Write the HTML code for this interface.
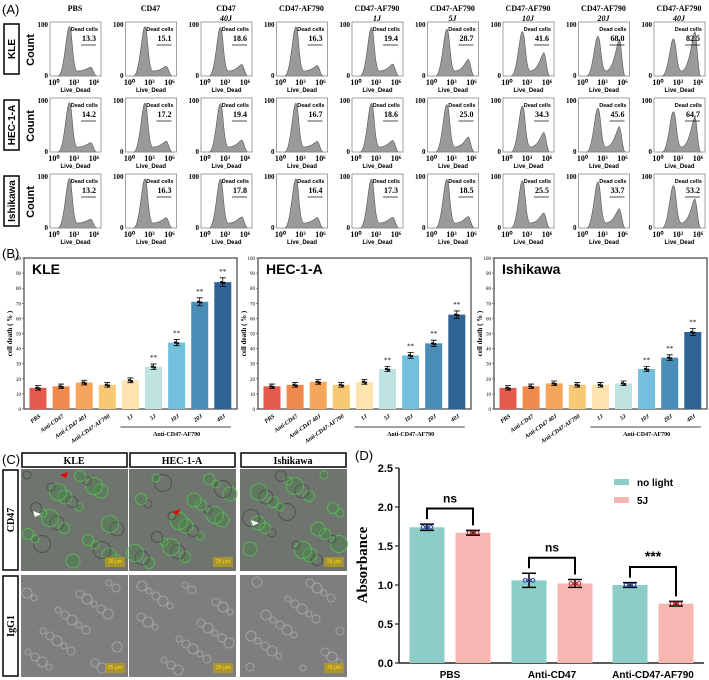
<!DOCTYPE html>
<html><head><meta charset="utf-8">
<style>
html,body{margin:0;padding:0;background:#fff;}
svg{display:block;font-family:"Liberation Serif",serif;}
.sans{font-family:"Liberation Sans",sans-serif;}
</style></head>
<body>
<svg id="fig" width="709" height="680" viewBox="0 0 709 680" xmlns="http://www.w3.org/2000/svg">
<text x="2" y="14" class="sans" font-size="13">(A)</text>
<text x="2" y="258" class="sans" font-size="13">(B)</text>
<text x="2" y="464" class="sans" font-size="13">(C)</text>
<text x="355" y="460" class="sans" font-size="13">(D)</text>
<g id="A"></g><g id="B"></g><g id="C"></g><g id="D"></g>
</svg>
<script>
// ---------- Panel A data ----------
const flowCols = ["PBS","CD47","CD47|40J","CD47-AF790","CD47-AF790|1J","CD47-AF790|5J","CD47-AF790|10J","CD47-AF790|20J","CD47-AF790|40J"];
const flowRows = ["KLE","HEC-1-A","Ishikawa"];
const deadKLE = [13.3,15.1,18.6,16.3,19.4,28.7,41.6,68.0,82.5];
const deadHEC = [14.2,17.2,19.4,16.7,18.6,25.0,34.3,45.6,64.7];
const deadISH = [13.2,16.3,17.8,16.4,17.3,18.5,25.5,33.7,53.2];
// ---------- Panel B data ----------
const bCats = ["PBS","Anti-CD47","Anti-CD47 40J","Anti-CD47-AF790","1J","5J","10J","20J","40J"];
const bKLE = [14,15,17.5,16,19,28,44,71,84];
const bHEC = [15,16,18,16,18,26.5,35.5,43.5,62.5];
const bISH = [14,15,17,16,16,17,26.5,34,51];
const bSigKLE = [0,0,0,0,0,1,1,1,1];
const bSigHEC = [0,0,0,0,0,1,1,1,1];
const bSigISH = [0,0,0,0,0,0,1,1,1];
const bTicks = [0,10,20,30,40,50,60,70,80,90,100];
// ---------- Panel D data ----------
const dCats = ["PBS","Anti-CD47","Anti-CD47-AF790"];
const dNoLight = [1.74,1.06,1.00];
const dFiveJ = [1.67,1.02,0.76];
const dErrNo = [0.04,0.09,0.03];
const dErr5 = [0.03,0.05,0.03];
const dSig = ["ns","ns","***"];
const dTicks = [0,0.5,1.0,1.5,2.0,2.5];

const NS="http://www.w3.org/2000/svg";
function mk(tag,attrs,parent,text){const e=document.createElementNS(NS,tag);for(const k in attrs)e.setAttribute(k,attrs[k]);if(text!==undefined)e.textContent=text;parent.appendChild(e);return e;}

// ---------- Panel A ----------
const A=document.getElementById('A');
const deadAll=[deadKLE,deadHEC,deadISH];
flowCols.forEach((c,i)=>{
  const cx=75+i*75.5;const parts=c.split('|');
  const t=mk('text',{x:cx,y:11,'text-anchor':'middle','font-size':8,'font-weight':'bold'},A,parts[0]);
  
  
  if(parts[1]){const t2=mk('text',{x:cx,y:21,'text-anchor':'middle','font-size':8,'font-weight':'bold','font-style':'italic'},A,parts[1]);
  
  }
});
flowRows.forEach((r,ri)=>{
  const top=22+ri*76;
  const lb=mk('rect',{x:4,y:top+2,width:15,height:50,fill:'#fff',stroke:'#000','stroke-width':1.5},A);
  
  
  const lt=mk('text',{x:0,y:0,'text-anchor':'middle','font-size':10,'font-weight':'bold',class:'sans',transform:`translate(15,${top+27}) rotate(-90)`},A,r);
  
  
  const ct=mk('text',{x:0,y:0,'text-anchor':'middle','font-size':11,'font-weight':'bold',class:'sans',transform:`translate(34,${top+28}) rotate(-90)`},A,'Count');
  
  
  deadAll[ri].forEach((v,ci)=>{
    const x0=50+ci*75.5,w=51,h=54,y0=top;
    const g=mk('g',{},A);
    
    
    const bl=y0+h; const p1=x0+w*0.38; const p2=x0+w*0.8;
    const ph1=h*(1-v/300)-2;
    const ph2=Math.min(h*0.92, h*v/100*0.95+2);
    const d=`M${x0+8},${bl} C${p1-5},${bl} ${p1-3},${bl-ph1} ${p1},${bl-ph1} C${p1+3},${bl-ph1} ${p1+3},${bl-5} ${p1+8},${bl-5} C${p2-5},${bl-5} ${p2-2},${bl-ph2} ${p2},${bl-ph2} C${p2+2},${bl-ph2} ${p2+3},${bl} ${p2+6},${bl} Z`;
    mk('path',{d:d,fill:'#9a9a9a',stroke:'#555','stroke-width':0.6},g);
    mk('rect',{x:x0,y:y0,width:w,height:h,fill:'none',stroke:'#888','stroke-width':0.8},g);
    mk('text',{x:x0-2,y:y0+5,'text-anchor':'end','font-size':7,'font-weight':'bold'},g,'100');
    mk('text',{x:x0-2,y:bl+2,'text-anchor':'end','font-size':7,'font-weight':'bold'},g,'0');
    mk('text',{x:x0+w-3,y:y0+9,'text-anchor':'end','font-size':5.5,'font-weight':'bold',class:'sans'},g,'Dead cells');
    mk('text',{x:x0+w-5,y:y0+19,'text-anchor':'end','font-size':8,'font-weight':'bold'},g,v.toFixed(1));
    mk('line',{x1:x0+w-20,x2:x0+w-5,y1:y0+23,y2:y0+23,stroke:'#000','stroke-width':0.7},g);
    ['10⁰','10³','10⁶'].forEach((s,k)=>mk('text',{x:x0+4+k*20,y:bl+9,'text-anchor':'middle','font-size':8,'font-weight':'bold'},g,s));
    mk('text',{x:x0+w/2,y:bl+16,'text-anchor':'middle','font-size':6,'font-weight':'bold',class:'sans'},g,'Live_Dead');
  });
});

// ---------- Panel B ----------
const B=document.getElementById('B');
const bColors=['#e45a4d','#ef8a4c','#f5a65c','#f9c874','#fde3ad','#bfe3e3','#74bfdc','#4a8eb8','#2f6393'];
function barChart(left,title,vals,sig){
  const top=258,bot=409,w=213;
  const y=v=>bot-(v/100)*(bot-top);
  const x=i=>left+14+i*23.1;
  const g=mk('g',{},B);
  
  
  mk('rect',{x:left,y:top,width:w,height:bot-top,fill:'none',stroke:'#444','stroke-width':1.2},g);
  bTicks.forEach(t=>{mk('line',{x1:left-2,x2:left,y1:y(t),y2:y(t),stroke:'#444','stroke-width':0.6},g);
    mk('text',{x:left-3,y:y(t)+2,'text-anchor':'end','font-size':5},g,t);});
  const tt=mk('text',{x:left+8,y:top+16,'font-size':14,'font-weight':'bold',class:'sans'},g,title);
  
  
  mk('text',{x:0,y:0,'text-anchor':'middle','font-size':7,'font-weight':'bold',transform:`translate(${left-12},${(top+bot)/2}) rotate(-90)`},g,'cell death ( % )');
  vals.forEach((v,i)=>{
    const b=mk('rect',{x:x(i)-8.5,y:y(v),width:17,height:bot-y(v),fill:bColors[i]},g);
    
    
    const e=1.2+v*0.02;
    mk('path',{d:`M${x(i)},${y(v+e)}V${y(v-e)}M${x(i)-3},${y(v+e)}h6M${x(i)-3},${y(v-e)}h6`,stroke:'#000','stroke-width':0.8,fill:'none'},g);
    mk('circle',{cx:x(i)-1.5,cy:y(v),r:1.2,fill:'#000'},g);mk('circle',{cx:x(i)+1.5,cy:y(v-0.5),r:1.2,fill:'#000'},g);
    if(sig[i])mk('text',{x:x(i),y:y(v+e)-4,'text-anchor':'middle','font-size':7},g,'**');
    mk('text',{x:0,y:0,'text-anchor':'end','font-size':6,'font-weight':'bold','font-style':'italic',transform:`translate(${x(i)+3},${bot+8}) rotate(-35)`},g,bCats[i]);
  });
  mk('line',{x1:x(4)-10,x2:x(8)+8,y1:bot+18,y2:bot+18,stroke:'#444','stroke-width':1},g);
  mk('text',{x:(x(4)+x(8))/2,y:bot+27,'text-anchor':'middle','font-size':6,'font-weight':'bold'},g,'Anti-CD47-AF790');
}
barChart(24,'KLE',bKLE,bSigKLE);
barChart(258,'HEC-1-A',bHEC,bSigHEC);
barChart(494,'Ishikawa',bISH,bSigISH);

// ---------- Panel C ----------
const C=document.getElementById('C');
const cCols=['KLE','HEC-1-A','Ishikawa'];const cX=[21,129,240];
cCols.forEach((c,i)=>{
  const h=mk('rect',{x:cX[i]+1,y:453,width:105,height:14,fill:'#fff',stroke:'#000','stroke-width':1.5},C);
  
  
  mk('text',{x:cX[i]+53,y:464,'text-anchor':'middle','font-size':10,'font-weight':'bold'},C,c);
  [0,1].forEach(r=>{
    const y0=r?575:469;
    const im=mk('rect',{x:cX[i],y:y0,width:107,height:102,fill:r?'#7e7e7e':'#6f756e'},C);
    
    
    for(let k=0;k<26;k++){
      const cx=cX[i]+6+((k*37+i*13+r*7)%96), cy=y0+6+((k*53+i*29+r*17)%90);
      const rr=r?3+(k%3):4+(k%4)*1.5;
      const green=!r && (k%3!==0);
      mk('circle',{cx:cx,cy:cy,r:rr,fill:green?'#3a8a3a':'none','fill-opacity':0.35,stroke:green?'#55c855':(r?'#b0b0b0':'#444'),'stroke-width':1,opacity:0.75},C);
    }
    mk('rect',{x:cX[i]+84,y:y0+88,width:20,height:10,fill:'#b89a20',opacity:0.8},C);
    mk('text',{x:cX[i]+94,y:y0+94,'text-anchor':'middle','font-size':5,fill:'#ffe000',class:'sans'},C,'25 μm');
  });
});
['CD47','IgG1'].forEach((s,r)=>{
  const y0=r?575:469;
  const b=mk('rect',{x:3,y:y0+1,width:15,height:100,fill:'#fff',stroke:'#000','stroke-width':1.5},C);
  
  
  mk('text',{x:0,y:0,'text-anchor':'middle','font-size':10,'font-weight':'bold',transform:`translate(14,${y0+51}) rotate(-90)`},C,s);
});
mk('path',{d:'M60,475 l8,-3 l-2,6z',fill:'#e00'},C);mk('path',{d:'M172,512 l8,-3 l-2,6z',fill:'#e00'},C);
mk('path',{d:'M33,511 l8,3 l-6,3z',fill:'#fff'},C);mk('path',{d:'M251,520 l8,3 l-6,3z',fill:'#fff'},C);

// ---------- Panel D ----------
const D=document.getElementById('D');
const dy=v=>663-v*78;
const dx=[450,552,653];
dTicks.forEach(t=>{mk('line',{x1:395,x2:399,y1:dy(t),y2:dy(t),stroke:'#222','stroke-width':1.2},D);
  mk('text',{x:393,y:dy(t)+4,'text-anchor':'end','font-size':11,'font-weight':'bold',class:'sans'},D,t.toFixed(1));});
mk('line',{x1:399,x2:399,y1:dy(2.5),y2:663,stroke:'#222','stroke-width':1.5},D);
mk('line',{x1:399,x2:704,y1:663,y2:663,stroke:'#222','stroke-width':1.5},D);
const yt=mk('text',{x:0,y:0,'text-anchor':'middle','font-size':15,'font-weight':'bold',transform:'translate(367,565) rotate(-90)'},D,'Absorbance');


dCats.forEach((c,i)=>{
  const pairs=[[dNoLight[i],dErrNo[i],-23,'#8ccdc8','#2a3ea8'],[dFiveJ[i],dErr5[i],23,'#f6b7b2','#b02020']];
  pairs.forEach(([v,e,off,col,dot])=>{
    const cx=dx[i]+off;
    const b=mk('rect',{x:cx-17.5,y:dy(v),width:35,height:663-dy(v),fill:col},D);
    
    
    mk('path',{d:`M${cx},${dy(v+e)}V${dy(v-e)}M${cx-7},${dy(v+e)}h14M${cx-7},${dy(v-e)}h14`,stroke:'#000','stroke-width':1.5,fill:'none'},D);
    [-4,0,4].forEach(o=>mk('circle',{cx:cx+o,cy:dy(v),r:1.8,fill:'none',stroke:dot,'stroke-width':1},D));
  });
  const topv=Math.max(dNoLight[i]+dErrNo[i],dFiveJ[i]+dErr5[i])+0.2;
  mk('path',{d:`M${dx[i]-23},${dy(dNoLight[i]+dErrNo[i])-5}V${dy(topv)}H${dx[i]+23}V${dy(dFiveJ[i]+dErr5[i])-5}`,stroke:'#000','stroke-width':2,fill:'none'},D);
  mk('text',{x:dx[i],y:dy(topv)-6,'text-anchor':'middle','font-size':dSig[i]==='ns'?12:14,'font-weight':'bold',class:'sans'},D,dSig[i]);
  const xl=mk('text',{x:dx[i],y:678,'text-anchor':'middle','font-size':10,'font-weight':'bold',class:'sans'},D,c);
  
  
});
const lg=mk('g',{},D);


mk('rect',{x:614,y:479,width:15,height:6,fill:'#8ccdc8'},lg);
mk('text',{x:637,y:486,'font-size':10,'font-weight':'bold',class:'sans'},lg,'no light');
mk('rect',{x:614,y:497,width:15,height:6,fill:'#f6b7b2'},lg);
mk('text',{x:637,y:504,'font-size':10,'font-weight':'bold',class:'sans'},lg,'5J');
</script>
</body></html>
